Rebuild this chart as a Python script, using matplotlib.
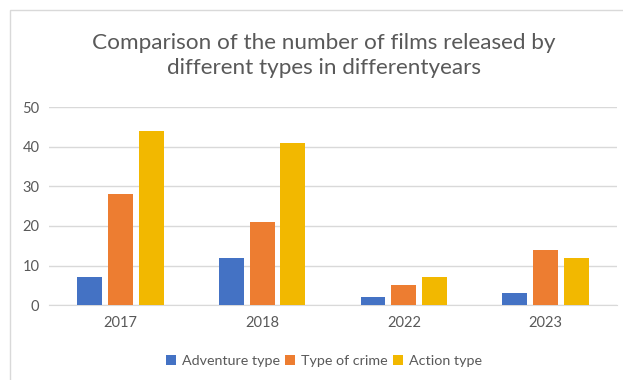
import numpy as np
import matplotlib
matplotlib.use("Agg")
import matplotlib.pyplot as plt
from matplotlib.patches import Rectangle

# данные
years = ["2017", "2018", "2022", "2023"]
adventure = [7, 12, 2, 3]
crime = [28, 21, 5, 14]
action = [44, 41, 7, 12]
series_names = ["Adventure type", "Type of crime", "Action type"]
colors = ["#4472C4", "#ED7D31", "#F2B800"]

plt.rcParams['font.family'] = ['Lato', 'DejaVu Sans']
grey = "#595959"

fig = plt.figure(figsize=(6.23, 3.80), dpi=100)
ax = fig.add_axes([0.079, 0.197, 0.911, 0.521])

# рамка диаграммы
fig.patches.append(Rectangle((10 / 623, -0.1), 1.2, 1.1 - 10 / 380, transform=fig.transFigure,
                             fill=False, edgecolor="#D9D9D9", linewidth=1))

x = np.arange(len(years))
w = 0.176
step = 0.218
for i, vals in enumerate([adventure, crime, action]):
    ax.bar(x + (i - 1) * step, vals, width=w, color=colors[i], label=series_names[i], zorder=3)

ax.set_xlim(-0.5, len(years) - 0.5)
ax.set_ylim(0, 50)
ax.set_yticks([0, 10, 20, 30, 40, 50])
ax.set_xticks(x)
ax.set_xticklabels(years)
ax.yaxis.grid(True, color="#D9D9D9", linewidth=1)
ax.set_axisbelow(True)
for s in ["top", "right", "left"]:
    ax.spines[s].set_visible(False)
ax.spines["bottom"].set_color("#D9D9D9")
ax.tick_params(length=0, labelsize=10.5, colors=grey, pad=8)
ax.tick_params(axis='y', pad=7)

fig.text(0.52, 0.853, "Comparison of the number of films released by\ndifferent types in differentyears",
         ha="center", va="center", fontsize=16.2, color=grey, linespacing=1.3)

fig.legend(loc="center", bbox_to_anchor=(0.52, 0.05), ncol=3, frameon=False, fontsize=10.3,
           handlelength=0.7, handleheight=0.7, handletextpad=0.4, columnspacing=0.4,
           labelcolor=grey)

fig.savefig("out.png", dpi=100)
